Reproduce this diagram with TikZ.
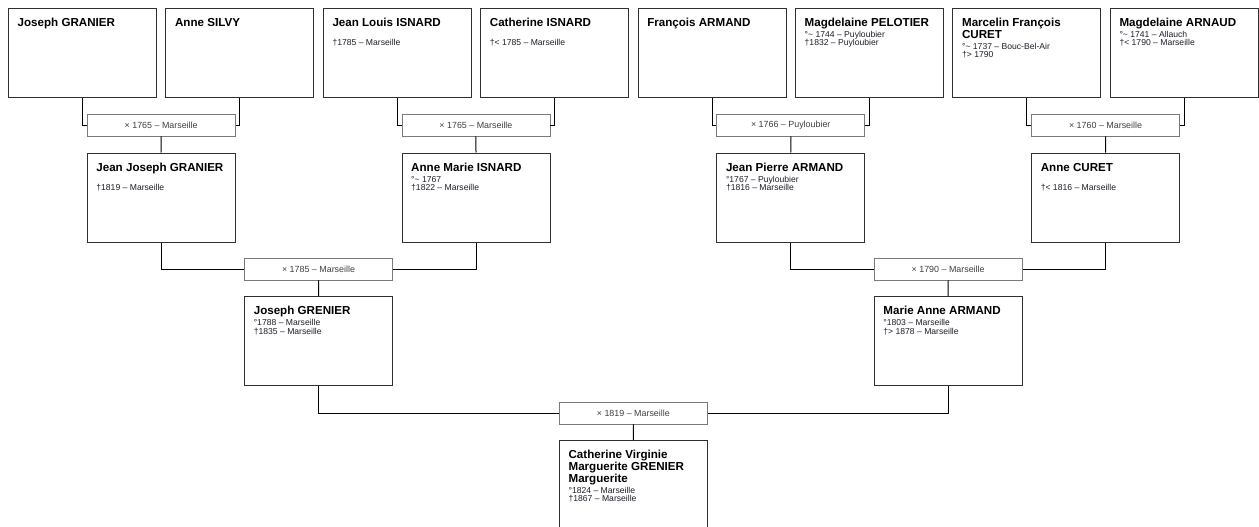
\documentclass[tikz,border=0pt]{standalone}
\usepackage{fontspec}
\setmainfont{Liberation Sans}
\definecolor{boxline}{HTML}{303030}
\definecolor{mline}{HTML}{7A7A7A}
\definecolor{mtext}{HTML}{404040}
\definecolor{dtext}{HTML}{1E1E2A}
\tikzset{
  pbox/.style={draw=boxline, line width=1pt, fill=white, rectangle, anchor=north west, inner sep=0pt, minimum width=148pt, minimum height=89pt},
  mbox/.style={draw=mline, line width=0.9pt, fill=white, rectangle, anchor=north west, inner sep=0pt, minimum width=148pt, minimum height=21.5pt, text=mtext, font=\fontsize{8.9}{9}\selectfont},
  nametxt/.style={anchor=base west, inner sep=0pt, font=\fontsize{11.6}{11.8}\selectfont\bfseries, text=black},
  dettxt/.style={anchor=base west, inner sep=0pt, font=\fontsize{8.6}{8}\selectfont, text=dtext},
  conn/.style={draw=black, line width=1pt}
}
\newcommand\pers[7]{%
  \node[pbox] (#1) at (#2,#3) {};
  \node[nametxt] (#1-name) at ([shift={(9.5,18.5)}]#1.north west) {\parbox[t]{140pt}{#4}};
  \pgfmathsetmacro\bofs{18.5+11.8*(#5-1)+11.3}
  \pgfmathsetmacro\dofs{\bofs+8.2}
  \ifx&#6&\else\node[dettxt] (#1-b) at ([shift={(9.5,\bofs)}]#1.north west) {#6};\fi
  \ifx&#7&\else\node[dettxt] (#1-d) at ([shift={(9.5,\dofs)}]#1.north west) {#7};\fi
}
\newcommand\tld{\char"007E}
\begin{document}
\begin{tikzpicture}[x=1pt, y=-1pt]
\useasboundingbox (0,0) rectangle (1259,527);
\clip (0,0) rectangle (1259,527);
% generation 5 (top row)
\pers{g1}{8}{8}{Joseph GRANIER}{1}{}{}
\pers{g2}{165.4}{8}{Anne SILVY}{1}{}{}
\pers{g3}{322.8}{8}{Jean Louis ISNARD}{1}{}{†1785 – Marseille}
\pers{g4}{480.2}{8}{Catherine ISNARD}{1}{}{†< 1785 – Marseille}
\pers{g5}{637.6}{8}{François ARMAND}{1}{}{}
\pers{g6}{795}{8}{Magdelaine PELOTIER}{1}{°\tld{} 1744 – Puyloubier}{†1832 – Puyloubier}
\pers{g7}{952.4}{8}{Marcelin François\\CURET}{2}{°\tld{} 1737 – Bouc-Bel-Air}{†> 1790}
\pers{g8}{1109.8}{8}{Magdelaine ARNAUD}{1}{°\tld{} 1741 – Allauch}{†< 1790 – Marseille}
% marriages gen 5
\node[mbox] (m1) at (86.7,114) {× 1765 – Marseille};
\node[mbox] (m2) at (401.5,114) {× 1765 – Marseille};
\node[mbox] (m3) at (716.3,114) {× 1766 – Puyloubier};
\node[mbox] (m4) at (1031.1,114) {× 1760 – Marseille};
% generation 4
\pers{f1}{86.7}{152.5}{Jean Joseph GRANIER}{1}{}{†1819 – Marseille}
\pers{f2}{401.5}{152.5}{Anne Marie ISNARD}{1}{°\tld{} 1767}{†1822 – Marseille}
\pers{f3}{716.3}{152.5}{Jean Pierre ARMAND}{1}{°1767 – Puyloubier}{†1816 – Marseille}
\pers{f4}{1031.1}{152.5}{Anne CURET}{1}{}{†< 1816 – Marseille}
% marriages gen 4
\node[mbox] (n1) at (244.1,258) {× 1785 – Marseille};
\node[mbox] (n2) at (873.7,258) {× 1790 – Marseille};
% generation 3
\pers{e1}{244.1}{296}{Joseph GRENIER}{1}{°1788 – Marseille}{†1835 – Marseille}
\pers{e2}{873.7}{296}{Marie Anne ARMAND}{1}{°1803 – Marseille}{†> 1878 – Marseille}
% marriage gen 3
\node[mbox] (o1) at (558.9,402) {× 1819 – Marseille};
% generation 2
\pers{d1}{558.9}{440}{Catherine Virginie\\Marguerite GRENIER\\Marguerite}{3}{°1824 – Marseille}{†1867 – Marseille}
% connectors
\draw[conn] (g1.south) |- (m1.west);
\draw[conn] (g2.south) |- (m1.east);
\draw[conn] (g3.south) |- (m2.west);
\draw[conn] (g4.south) |- (m2.east);
\draw[conn] (g5.south) |- (m3.west);
\draw[conn] (g6.south) |- (m3.east);
\draw[conn] (g7.south) |- (m4.west);
\draw[conn] (g8.south) |- (m4.east);
\draw[conn] (m1.south) -- (f1.north);
\draw[conn] (m2.south) -- (f2.north);
\draw[conn] (m3.south) -- (f3.north);
\draw[conn] (m4.south) -- (f4.north);
\draw[conn] (f1.south) |- (n1.west);
\draw[conn] (f2.south) |- (n1.east);
\draw[conn] (f3.south) |- (n2.west);
\draw[conn] (f4.south) |- (n2.east);
\draw[conn] (n1.south) -- (e1.north);
\draw[conn] (n2.south) -- (e2.north);
\draw[conn] (e1.south) |- (o1.west);
\draw[conn] (e2.south) |- (o1.east);
\draw[conn] (o1.south) -- (d1.north);
\end{tikzpicture}
\end{document}
